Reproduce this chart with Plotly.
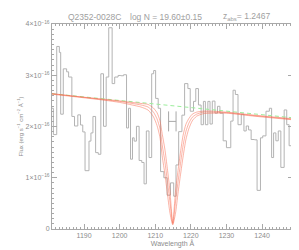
import plotly.graph_objects as go

# ---------------- data ----------------
# observed spectrum (bin left edges in Angstrom, flux in 1e-16 erg/s/cm2/A)
wave = [1180.83, 1181.39, 1182.33, 1183.06, 1183.44, 1184.17, 1185.11, 1185.67, 1186.58, 1187.33,
        1188.25, 1189.00, 1189.64, 1190.28, 1191.39, 1191.94, 1192.50, 1193.25, 1194.00, 1194.72,
        1195.47, 1196.22, 1196.94, 1197.89, 1198.61, 1199.56, 1200.33, 1201.11, 1201.94, 1202.50,
        1203.06, 1203.61, 1204.08, 1204.72, 1205.47, 1206.22, 1206.86, 1207.50, 1208.25, 1209.00,
        1209.56, 1210.11, 1210.83, 1211.50, 1212.42, 1213.33, 1214.28, 1215.19, 1215.83, 1216.58,
        1217.50, 1218.25, 1219.17, 1219.83, 1220.75, 1221.39, 1222.14, 1222.89, 1223.53, 1224.08,
        1224.78, 1225.39, 1226.03, 1226.78, 1227.50, 1228.17, 1229.08, 1230.00, 1231.22, 1231.86,
        1232.50, 1233.25, 1234.17, 1234.92, 1235.56, 1236.22, 1236.94, 1237.89, 1238.61, 1239.56,
        1240.19, 1241.11, 1242.06, 1242.69, 1243.25, 1243.89, 1244.56, 1245.28, 1246.22, 1246.94,
        1247.61, 1249.50]
flux = [2.356, 1.842, 3.562, 3.446, 2.240, 3.125, 3.067, 2.965, 2.196, 2.010,
        2.227, 2.029, 1.894, 1.138, 1.715, 1.875, 2.196, 1.490, 1.458, 3.029,
        2.004, 2.965, 3.927, 2.837, 2.965, 2.996, 2.990, 3.010, 1.971, 2.356,
        1.362, 1.779, 1.715, 2.004, 1.337, 1.298, 0.881, 1.913, 1.394, 3.029,
        3.092, 2.548, 2.356, 1.120, 1.000, 0.660, 0.900, 0.640, 1.250, 1.900,
        2.221, 2.837, 2.740, 2.298, 2.490, 2.740, 2.419, 2.035, 2.490, 2.035,
        2.490, 2.048, 2.496, 2.260, 2.394, 2.260, 1.721, 1.587, 2.106, 2.708,
        2.625, 2.035, 2.240, 1.913, 2.010, 1.933, 1.746, 1.740, 0.754, 1.779,
        1.817, 2.298, 2.356, 1.394, 1.875, 1.721, 1.913, 1.202, 2.323, 2.035,
        1.625, 1.625]

# continuum
cont_wave = [1181.0, 1248.7]
cont_flux = [2.64, 2.17]

# damped Lya model, log N = 19.45 / 19.60 / 19.75
model_wave = [1181.0, 1190.0, 1196.0, 1200.0, 1203.5, 1206.0, 1208.0, 1209.5, 1210.5, 1211.3,
              1212.0, 1212.7, 1213.4, 1214.1, 1214.92, 1215.7, 1216.4, 1217.1, 1217.8, 1218.6,
              1219.4, 1220.4, 1221.6, 1223.5, 1226.0, 1230.0, 1238.0, 1248.7]
model_lo = [2.64, 2.57, 2.53, 2.50, 2.47, 2.45, 2.43, 2.36, 2.27, 2.12,
            1.84, 1.56, 1.18, 0.76, 0.12, 0.74, 1.14, 1.50, 1.82, 2.04,
            2.15, 2.24, 2.28, 2.30, 2.30, 2.28, 2.22, 2.15]
model_mid = [2.64, 2.57, 2.52, 2.49, 2.45, 2.42, 2.38, 2.28, 2.15, 1.97,
             1.62, 1.32, 0.94, 0.55, 0.10, 0.53, 0.92, 1.28, 1.62, 1.90,
             2.06, 2.18, 2.24, 2.28, 2.28, 2.27, 2.21, 2.14]
model_hi = [2.63, 2.56, 2.51, 2.47, 2.42, 2.38, 2.32, 2.19, 2.02, 1.80,
            1.40, 1.08, 0.70, 0.33, 0.08, 0.31, 0.70, 1.06, 1.40, 1.74,
            1.95, 2.11, 2.20, 2.25, 2.26, 2.26, 2.20, 2.13]

# absorber centre marker
line_center = [1214.8]
line_center_err = [1.05]
marker_level = [2.1]

x_ticks = [1190, 1200, 1210, 1220, 1230, 1240]
y_ticks = [0, 1, 2, 3, 4]
y_ticktext = ["0", "1×10<sup>−16</sup>", "2×10<sup>−16</sup>", "3×10<sup>−16</sup>", "4×10<sup>−16</sup>"]

# ---------------- figure ----------------
AX = "#a8a8a8"
TXT = "#8c8c8c"
FONT = "Liberation Sans"

fig = go.Figure()
fig.add_trace(go.Scatter(x=wave, y=flux, mode="lines", line=dict(shape="hv", color="#b3b3b3", width=1),
                         hoverinfo="skip"))
fig.add_trace(go.Scatter(x=cont_wave, y=cont_flux, mode="lines",
                         line=dict(color="#9cee9c", width=1, dash="4px,3px")))
for m in (model_lo, model_mid, model_hi):
    fig.add_trace(go.Scatter(x=model_wave, y=m, mode="lines",
                             line=dict(color="rgba(248,105,80,0.5)", width=1, shape="spline", smoothing=0.6)))
fig.add_trace(go.Scatter(x=line_center, y=marker_level, mode="markers",
                         marker=dict(size=1, color="rgba(0,0,0,0)"),
                         error_x=dict(type="data", array=line_center_err, color="#a8a8a8",
                                      thickness=1, width=10)))

fig.update_layout(
    width=299, height=250,
    margin=dict(l=42, r=14, t=14, b=28),
    paper_bgcolor="white", plot_bgcolor="white",
    showlegend=False,
    font=dict(family=FONT, color=TXT, size=7),
)
fig.update_xaxes(range=[1181.0, 1248.7], tickvals=x_ticks, ticks="inside", ticklen=5, tickcolor=AX,
                 showline=True, linecolor=AX, linewidth=1, mirror="allticks", showgrid=False, zeroline=False,
                 tickfont=dict(size=7, color=TXT),
                 minor=dict(dtick=1, ticks="inside", ticklen=2, tickcolor=AX, showgrid=False),
                 title=dict(text="Wavelength Å", font=dict(size=7, color=TXT), standoff=2))
fig.update_yaxes(range=[0, 4], tickvals=y_ticks, ticktext=y_ticktext, ticks="inside", ticklen=5, tickcolor=AX,
                 showline=True, linecolor=AX, linewidth=1, mirror="allticks", showgrid=False, zeroline=False,
                 tickfont=dict(size=7, color=TXT),
                 minor=dict(dtick=0.1, ticks="inside", ticklen=2, tickcolor=AX, showgrid=False),
                 title=dict(text="Flux (erg s<sup>−1</sup> cm<sup>−2</sup> Å<sup>−1</sup>)",
                            font=dict(size=6, color=TXT), standoff=1))

for txt, xp in [("Q2352-0028C", 0.177), ("log N = 19.60±0.15", 0.471), ("z<sub>abs</sub>= 1.2467", 0.807)]:
    fig.add_annotation(text=txt, xref="paper", yref="paper", x=xp, y=1.035, showarrow=False,
                       font=dict(size=8.5, color="#a0a0a0", family=FONT), xanchor="center", yanchor="middle")

fig.write_html("out.html")
